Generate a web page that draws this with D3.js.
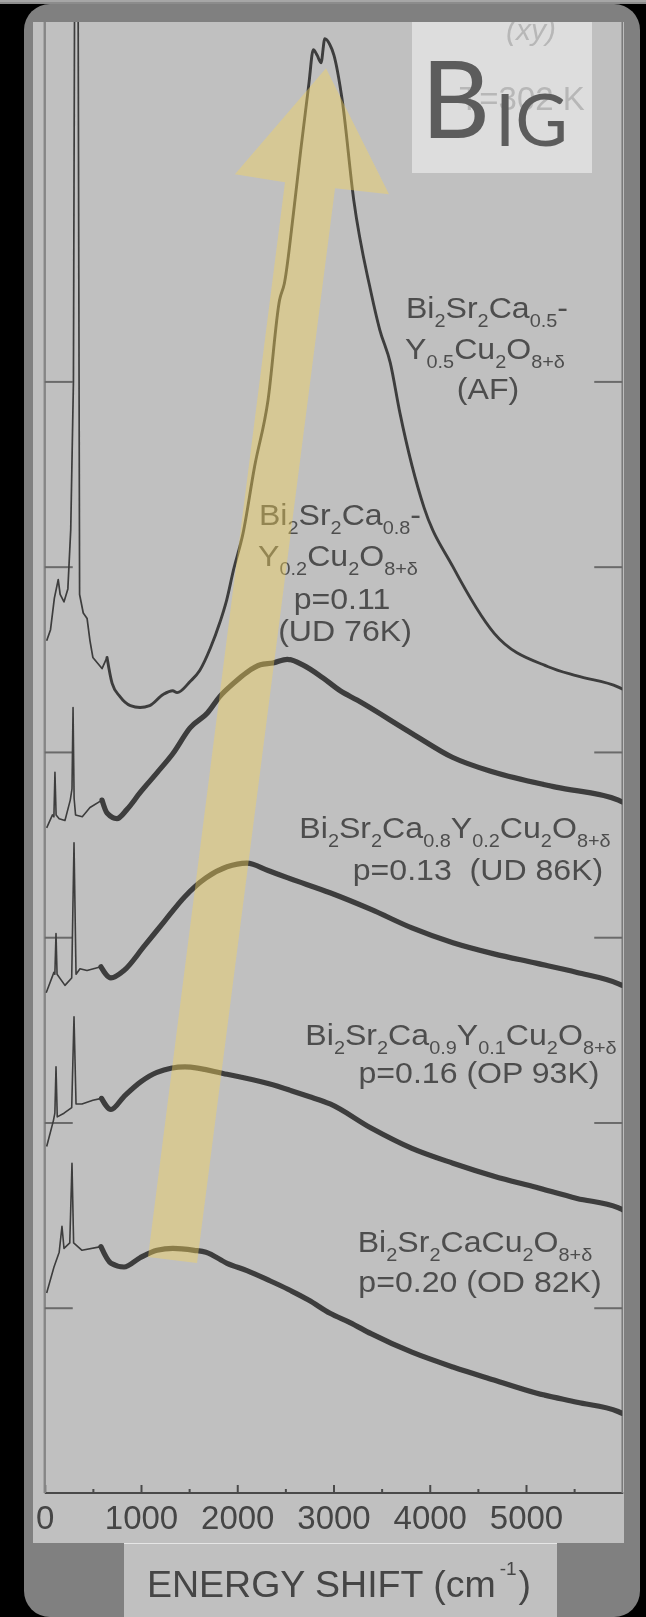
<!DOCTYPE html>
<html><head><meta charset="utf-8">
<script src="https://cdn.jsdelivr.net/npm/d3@7"></script>
<style>
html,body{margin:0;padding:0;background:#000;}
svg{display:block;}
text{font-family:"Liberation Sans",Arial,Helvetica,sans-serif;}
</style></head><body>
<svg id="c" width="646" height="1617"></svg>
<script>
// ---------- data (energy shift in cm^-1, intensity in arbitrary offset units) ----------
const energyTicks = [0,1000,2000,3000,4000,5000];
const energyMinorTicks = [500,1500,2500,3500,4500,5500];
const energyTickLabels = ["0","1000","2000","3000","4000","5000"];
const intensityTicks = [1,2,3,4,5,6];

const energyAF = [20,60,100,140,160,200,240,270,298,318,340,362,400,440,470,500,595,647,700,780,890,990,1090,1230,1330,1375,1510,1610,1720,1820,1890,1960,2060,2180,2320,2440,2490,2580,2660,2745,2790,2830,2870,2910,2960,3005,3090,3210,3390,3480,3590,3690,3940,4240,4670,5230,5530,5960,6000];
const intensityAF = [4.60,4.66,4.83,4.93,4.85,4.81,4.88,5.20,6.00,9.50,9.50,4.85,4.75,4.72,4.60,4.51,4.45,4.51,4.37,4.30,4.25,4.24,4.25,4.31,4.33,4.32,4.38,4.44,4.56,4.70,4.82,4.98,5.18,5.54,5.90,6.44,6.53,6.89,7.25,7.61,7.79,7.76,7.72,7.85,7.82,7.76,7.52,6.98,6.48,6.28,6.10,5.83,5.32,5.00,4.64,4.46,4.41,4.35,4.34];

const energyUD76 = [20,80,95,106,118,150,210,265,283,294,305,320,390,470,595,647,750,855,990,1170,1330,1510,1690,1820,1960,2100,2240,2370,2520,2680,2890,3070,3245,3815,4240,4670,5310,5960,6000];
const intensityUD76 = [3.59,3.66,3.65,3.89,3.66,3.64,3.63,3.74,3.80,4.24,3.75,3.66,3.65,3.70,3.74,3.67,3.64,3.69,3.78,3.89,3.99,4.13,4.21,4.30,4.37,4.43,4.47,4.48,4.50,4.47,4.40,4.33,4.28,4.10,3.97,3.89,3.81,3.74,3.73];

const energyUD86 = [15,95,105,117,128,210,280,304,325,366,439,584,688,823,1031,1249,1457,1675,1894,2101,2320,2527,2964,3390,3815,4241,4667,5104,5530,5956,6000];
const intensityUD86 = [2.70,2.81,2.80,3.02,2.80,2.74,2.78,3.51,2.80,2.83,2.82,2.84,2.78,2.82,2.95,3.09,3.22,3.32,3.38,3.40,3.36,3.32,3.24,3.15,3.05,2.97,2.91,2.86,2.81,2.75,2.74];

const energyOP93 = [20,90,105,117,130,200,280,304,325,387,500,590,688,823,1000,1166,1457,1894,2320,2745,2964,3390,3815,4241,4667,5104,5530,5956,6000];
const intensityOP93 = [1.87,2.01,2.05,2.30,2.03,2.05,2.08,2.57,2.10,2.10,2.12,2.13,2.07,2.14,2.22,2.27,2.30,2.26,2.21,2.14,2.10,1.97,1.86,1.78,1.71,1.65,1.59,1.54,1.53];

const energyOD82 = [20,96,150,179,200,260,283,300,387,584,688,823,990,1166,1332,1553,1675,1894,2101,2320,2527,2745,2964,3172,3390,3815,4241,4667,5104,5530,5956,6000];
const intensityOD82 = [1.08,1.22,1.30,1.44,1.32,1.35,1.78,1.35,1.31,1.33,1.24,1.22,1.27,1.31,1.32,1.31,1.30,1.24,1.20,1.15,1.10,1.04,0.97,0.92,0.86,0.76,0.68,0.61,0.54,0.49,0.44,0.43];

const labelAF = ["Bi_2Sr_2Ca_{0.5}-", "Y_{0.5}Cu_2O_{8+δ}", "(AF)"];
const labelUD76 = ["Bi_2Sr_2Ca_{0.8}-", "Y_{0.2}Cu_2O_{8+δ}", "p=0.11", "(UD 76K)"];
const labelUD86 = ["Bi_2Sr_2Ca_{0.8}Y_{0.2}Cu_2O_{8+δ}", "p=0.13  (UD 86K)"];
const labelOP93 = ["Bi_2Sr_2Ca_{0.9}Y_{0.1}Cu_2O_{8+δ}", "p=0.16 (OP 93K)"];
const labelOD82 = ["Bi_2Sr_2CaCu_2O_{8+δ}", "p=0.20 (OD 82K)"];

// trend arrow outline in data units (energy, intensity)
const arrowEnergy = [2922,3577,3016,1582,1073,2496,1976];
const arrowIntensity = [7.690,7.010,7.043,1.241,1.274,7.075,7.118];

const axisTitle = "ENERGY SHIFT (cm";
const axisTitleSup = "-1";
const hiddenTexts = ["(xy)", "T=302 K"];
const badgeBig = "B", badgeSmall = "IG";

// ---------- layout ----------
const svg = d3.select("#c");
const W = 646, H = 1617;
const plot = {left:44.75, right:622.25, top:22, bottom:1493};
const x = d3.scaleLinear().domain([0,6000]).range([plot.left, plot.right]);
const y = d3.scaleLinear().domain([0,7.94]).range([plot.bottom, plot.top]);
const ink = "#3c3c3c", textInk = "#4e4e4e";

const defs = svg.append("defs");
defs.append("clipPath").attr("id","plotClip").append("rect")
  .attr("x",plot.left).attr("y",plot.top).attr("width",plot.right-plot.left).attr("height",plot.bottom-plot.top);
defs.append("clipPath").attr("id","panelClip").append("rect")
  .attr("x",33).attr("y",22).attr("width",591).attr("height",1521);
const blur = defs.append("filter").attr("id","soft").attr("x","-5%").attr("y","-5%").attr("width","110%").attr("height","110%");
blur.append("feGaussianBlur").attr("stdDeviation",0.55);

// background frame
svg.append("rect").attr("x",0).attr("y",0).attr("width",W).attr("height",H).attr("fill","#000");
svg.append("rect").attr("x",0).attr("y",0).attr("width",W).attr("height",2).attr("fill","#a6a6a6");
svg.append("rect").attr("x",0).attr("y",2).attr("width",W).attr("height",2).attr("fill","#8c8c8c");
svg.append("rect").attr("x",24).attr("y",4).attr("width",616).attr("height",1613).attr("rx",26).attr("fill","#808080");
svg.append("rect").attr("x",33).attr("y",22).attr("width",591).attr("height",1521).attr("fill","#c0c0c0");
svg.append("rect").attr("x",124).attr("y",1543).attr("width",433).attr("height",74).attr("fill","#c0c0c0");
svg.append("rect").attr("x",124).attr("y",1543).attr("width",433).attr("height",1).attr("fill","#e6e6e6");

const g = svg.append("g").attr("filter","url(#soft)");

// axes
const xAxis = d3.axisBottom(x).tickValues(energyTicks).tickSize(-8).tickPadding(0)
  .tickFormat((d,i)=>energyTickLabels[i]);
const gx = g.append("g").attr("transform",`translate(0,${plot.bottom})`).call(xAxis);
gx.select(".domain").remove();
gx.selectAll(".tick line").attr("stroke","#4a4a4a").attr("stroke-width",2);
gx.selectAll(".tick text").attr("fill","#444").attr("font-size",33).attr("dy",0).attr("y",36)
  .style("font-family",'"Liberation Sans",Arial,sans-serif');
g.append("g").attr("transform",`translate(0,${plot.bottom})`)
  .call(d3.axisBottom(x).tickValues(energyMinorTicks).tickSize(-4).tickFormat(""))
  .call(s=>s.select(".domain").remove())
  .selectAll(".tick line").attr("stroke","#4a4a4a").attr("stroke-width",2);

g.append("line").attr("x1",plot.left).attr("x2",plot.right+1).attr("y1",plot.bottom).attr("y2",plot.bottom)
  .attr("stroke","#4a4a4a").attr("stroke-width",2.2);
g.append("line").attr("x1",plot.left).attr("x2",plot.left).attr("y1",plot.top).attr("y2",plot.bottom)
  .attr("stroke","#868686").attr("stroke-width",2.4);
g.append("line").attr("x1",plot.right).attr("x2",plot.right).attr("y1",plot.top).attr("y2",plot.bottom)
  .attr("stroke","#7a7a7a").attr("stroke-width",1.6);

const yL = d3.axisRight(y).tickValues(intensityTicks).tickSize(28).tickFormat("");
const gyl = g.append("g").attr("transform",`translate(${plot.left},0)`).call(yL);
gyl.select(".domain").remove();
gyl.selectAll(".tick line").attr("stroke","#6a6a6a").attr("stroke-width",2);
const yR = d3.axisLeft(y).tickValues(intensityTicks).tickSize(28).tickFormat("");
const gyr = g.append("g").attr("transform",`translate(${plot.right},0)`).call(yR);
gyr.select(".domain").remove();
gyr.selectAll(".tick line").attr("stroke","#6a6a6a").attr("stroke-width",2);

// axis title
const title = g.append("text").attr("x",147).attr("y",1597).attr("font-size",37.5).attr("fill","#444");
title.append("tspan").text(axisTitle);
title.append("tspan").attr("font-size",19).attr("dx",4).attr("dy",-22).text(axisTitleSup);
title.append("tspan").attr("dx",2).attr("dy",22).text(")");

// spectra
const spectra = [
  {E:energyAF, I:intensityAF, split:650, thin:1.7, thick:2.9},
  {E:energyUD76, I:intensityUD76, split:600, thin:1.6, thick:5.2},
  {E:energyUD86, I:intensityUD86, split:590, thin:1.6, thick:5.2},
  {E:energyOP93, I:intensityOP93, split:600, thin:1.6, thick:5.2},
  {E:energyOD82, I:intensityOD82, split:590, thin:1.6, thick:5.2}
];
const line = d3.line().x(d=>x(d[0])).y(d=>y(d[1]));
const smooth = d3.line().x(d=>x(d[0])).y(d=>y(d[1])).curve(d3.curveMonotoneX);
const curves = g.append("g").attr("clip-path","url(#plotClip)");
spectra.forEach(s=>{
  const pts = s.E.map((e,i)=>[e,s.I[i]]);
  const low = pts.filter(p=>p[0]<=s.split);
  const hi = pts.filter(p=>p[0]>=low[low.length-1][0]);
  curves.append("path").attr("d",line(low)).attr("fill","none").attr("stroke",ink)
    .attr("stroke-width",s.thin).attr("stroke-linejoin","round");
  curves.append("path").attr("d",smooth(hi)).attr("fill","none").attr("stroke",ink)
    .attr("stroke-width",s.thick).attr("stroke-linejoin","round").attr("stroke-linecap","round");
});

// labels with chemical subscripts
function rich(sel, str, size){
  const parts = str.split(/_(\{[^}]*\}|.)/);
  const off = size*0.3;
  let shifted = false;
  parts.forEach((p,i)=>{
    if(p==="") return;
    if(i%2===1){
      const t = p.replace(/^\{|\}$/g,"");
      const ts = sel.append("tspan").attr("font-size",size*0.62).text(t);
      if(!shifted){ ts.attr("dy",off); shifted = true; }
    } else {
      const ts = sel.append("tspan").text(p);
      if(shifted){ ts.attr("dy",-off); shifted = false; }
    }
  });
}
const labelLayout = [
  {lines:labelAF, cx:[487,485,488], by:[318,359,399]},
  {lines:labelUD76, cx:[340,338,342,345], by:[525,566,609,641]},
  {lines:labelUD86, cx:[455,478], by:[838,880]},
  {lines:labelOP93, cx:[461,479], by:[1045,1083]},
  {lines:labelOD82, cx:[475,480], by:[1252,1292]}
];
const fs = 30;
labelLayout.forEach(L=>{
  L.lines.forEach((ln,i)=>{
    const t = g.append("text").attr("transform",`translate(${L.cx[i]},${L.by[i]}) scale(1.07,1)`)
      .attr("x",0).attr("y",0).attr("text-anchor","middle")
      .attr("font-size",fs).attr("fill",textInk).style("white-space","pre");
    rich(t, ln, fs);
  });
});

// original figure text partly hidden under the badge
const panelG = svg.append("g").attr("clip-path","url(#panelClip)");
panelG.append("text").attr("x",531).attr("y",40).attr("text-anchor","middle").attr("font-size",30)
  .attr("font-style","italic").attr("fill","#7a7a7a").attr("filter","url(#soft)").text(hiddenTexts[0]);
panelG.append("text").attr("x",522).attr("y",110).attr("text-anchor","middle").attr("font-size",33)
  .attr("fill","#7a7a7a").attr("filter","url(#soft)").text(hiddenTexts[1]);

// yellow trend arrow
const arrowPts = arrowEnergy.map((e,i)=>[x(e), y(arrowIntensity[i])]);
svg.append("polygon").attr("points",arrowPts.map(p=>p.join(",")).join(" "))
  .attr("fill","#f6d45a").attr("fill-opacity",0.42);

// BIG badge
svg.append("rect").attr("x",412).attr("y",22).attr("width",180).attr("height",151)
  .attr("fill","#ffffff").attr("fill-opacity",0.46);
svg.append("text").attr("x",421).attr("y",138).attr("font-size",107).attr("fill","#5c5c5c")
  .style("font-family","Lato, 'Open Sans', sans-serif").text(badgeBig);
svg.append("text").attr("x",495).attr("y",146).attr("font-size",72).attr("fill","#5c5c5c")
  .style("font-family","Lato, 'Open Sans', sans-serif").text(badgeSmall);
</script>
</body></html>
